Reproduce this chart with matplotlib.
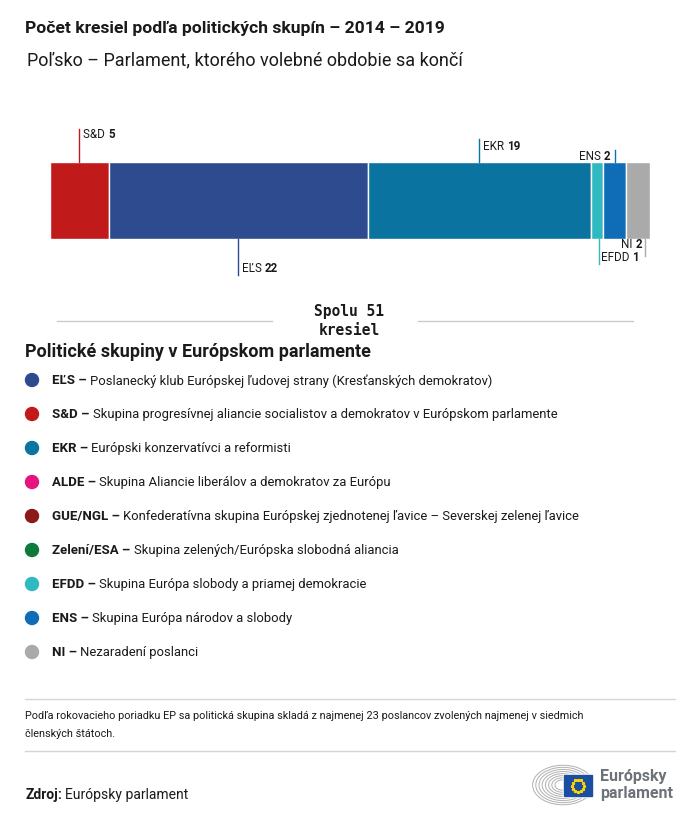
import numpy as np
import matplotlib
matplotlib.use("Agg")
import matplotlib.pyplot as plt
from matplotlib.patches import Rectangle, Arc, Circle

plt.rcParams['font.family'] = ['Roboto', 'DejaVu Sans']

# data
bar_groups = ['S&D', 'EĽS', 'EKR', 'EFDD', 'ENS', 'NI']
bar_seats = [5, 22, 19, 1, 2, 2]
bar_colors = ['#c01a1a', '#2d4b8e', '#0a73a0', '#31b9c1', '#0f6db7', '#aaaaaa']

legend_codes = ['EĽS', 'S&D', 'EKR', 'ALDE', 'GUE/NGL', 'Zelení/ESA', 'EFDD', 'ENS', 'NI']
legend_desc = [
    'Poslanecký klub Európskej ľudovej strany (Kresťanských demokratov)',
    'Skupina progresívnej aliancie socialistov a demokratov v Európskom parlamente',
    'Európski konzervatívci a reformisti',
    'Skupina Aliancie liberálov a demokratov za Európu',
    'Konfederatívna skupina Európskej zjednotenej ľavice – Severskej zelenej ľavice',
    'Skupina zelených/Európska slobodná aliancia',
    'Skupina Európa slobody a priamej demokracie',
    'Skupina Európa národov a slobody',
    'Nezaradení poslanci',
]
legend_colors = ['#2d4b8e', '#c01a1a', '#0a73a0', '#e6137f', '#8b1a1a',
                 '#0e7a3a', '#31b9c1', '#0f6db7', '#aaaaaa']

W, H = 700, 820
fig = plt.figure(figsize=(W / 100, H / 100), dpi=100)

# page axes in pixel coordinates
ax0 = fig.add_axes([0, 0, 1, 1])
ax0.set_xlim(0, W)
ax0.set_ylim(H, 0)
ax0.axis('off')

dark = '#1a1a1a'
ax0.text(25, 28, 'Počet kresiel podľa politických skupín – 2014 – 2019',
         fontsize=12.6, fontweight='bold', color=dark, va='center')
ax0.text(27, 60, 'Poľsko – Parlament, ktorého volebné obdobie sa končí',
         fontsize=13, color=dark, va='center')

# stacked bar
bx0, bx1, by0, by1 = 50, 650, 163, 240
axb = fig.add_axes([bx0 / W, 1 - by1 / H, (bx1 - bx0) / W, (by1 - by0) / H])
total = sum(bar_seats)
lefts = np.concatenate([[0], np.cumsum(bar_seats)[:-1]])
axb.barh(0, bar_seats, left=lefts, height=1, color=bar_colors,
         edgecolor='white', linewidth=1)
axb.set_xlim(0, total)
axb.set_ylim(-0.5, 0.5)
axb.axis('off')

unit = by1 - by0  # px per y data unit
def py(p):
    # pixel y -> bar axis data y
    return 0.5 - (p - by0) / unit

fig.canvas.draw()
r = fig.canvas.get_renderer()

# label lines: x offset in seats, line end px, text x off px, text y px, alignment
label_spec = {
    'S&D': (0.0, 130, 4, 134, 'left'),
    'EĽS': (0.0, 276, 4, 269, 'left'),
    'EKR': (0.0, 140, 4, 146, 'left'),
    'EFDD': (0.15, 265, 2, 258, 'left'),
    'ENS': (0.0, 151, -4, 157, 'right'),
    'NI': (0.6, 257, -3, 245, 'right'),
}
for i, g in enumerate(bar_groups):
    dx, yend, tx, ty, ha = label_spec[g]
    xc = lefts[i] + bar_seats[i] / 2 + dx
    ystart = by0 if yend < by0 else by1
    axb.plot([xc, xc], [py(ystart), py(yend)], color=bar_colors[i], lw=1,
             clip_on=False)
    xpx = bx0 + xc / total * (bx1 - bx0) + tx
    num = ax0.text(0, ty, str(bar_seats[i]), fontsize=8.4, fontweight='bold',
                   color=dark, va='center')
    lab = ax0.text(0, ty, g + ' ', fontsize=8.4, color=dark, va='center')
    wl = lab.get_window_extent(r).width
    wn = num.get_window_extent(r).width
    if ha == 'left':
        lab.set_x(xpx)
        num.set_x(xpx + wl)
    else:
        lab.set_x(xpx - wn - wl)
        num.set_x(xpx - wn)

# total separator
ax0.plot([57, 272], [322, 322], color='#cccccc', lw=1)
ax0.plot([418, 633], [322, 322], color='#cccccc', lw=1)
ax0.text(349, 312, 'Spolu %d' % total, family='DejaVu Sans Mono', fontweight='bold',
         fontsize=10.5, color=dark, ha='center', va='center')
ax0.text(349, 331, 'kresiel', family='DejaVu Sans Mono', fontweight='bold',
         fontsize=10.5, color=dark, ha='center', va='center')

# legend
ax0.text(25, 352, 'Politické skupiny v Európskom parlamente', fontsize=13,
         fontweight='bold', color=dark, va='center')
for k, (code, desc, c) in enumerate(zip(legend_codes, legend_desc, legend_colors)):
    y = 381 + 34 * k
    ax0.add_patch(Circle((32, y), 6.5, color=c))
    b = ax0.text(52, y, code + ' – ', fontsize=9.5, fontweight='bold',
                 color=dark, va='center')
    wb = b.get_window_extent(r).width
    ax0.text(52 + wb, y, desc, fontsize=9.4, color=dark, va='center')

# footer
ax0.plot([25, 675], [700, 700], color='#d5d5d5', lw=1)
ax0.text(25, 716, 'Podľa rokovacieho poriadku EP sa politická skupina skladá z najmenej '
         '23 poslancov zvolených najmenej v siedmich', fontsize=7.8, color=dark,
         va='center')
ax0.text(25, 734, 'členských štátoch.', fontsize=7.8, color=dark, va='center')
ax0.plot([25, 675], [752, 752], color='#d5d5d5', lw=1)
fz = ax0.text(25, 795, 'Zdroj:', fontsize=10, fontweight='bold', color=dark,
              va='center')
wz = fz.get_window_extent(r).width
ax0.text(25 + wz + 3, 795, 'Európsky parlament', fontsize=10, color=dark,
         va='center')

# logo
for rr in np.arange(8, 33, 3.2):
    ax0.add_patch(Arc((563, 786), rr * 2, rr * 1.3, theta1=0, theta2=360,
                      color='#b0b0b0', lw=0.7))
ax0.add_patch(Rectangle((563, 775), 30, 23, color='#ffffff', zorder=3))
ax0.add_patch(Rectangle((564, 776), 28, 21, color='#1a4ea0', zorder=4))
for a in np.linspace(0, 2 * np.pi, 12, endpoint=False):
    ax0.plot(578 + 6 * np.cos(a), 786.5 + 6 * np.sin(a), marker='*', ms=2,
             color='#ffd200', zorder=5)
ax0.text(600, 777, 'Európsky', fontsize=11.5, fontweight='bold', color='#6d7278',
         va='center')
ax0.text(600, 794, 'parlament', fontsize=11.5, fontweight='bold', color='#6d7278',
         va='center')

fig.savefig('out.png', dpi=100)
